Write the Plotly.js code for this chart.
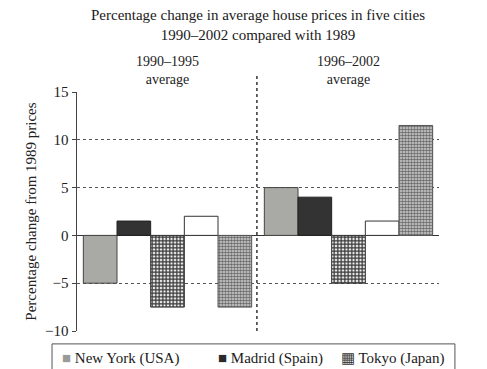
<!DOCTYPE html>
<html><head><meta charset="utf-8">
<script src="https://cdn.plot.ly/plotly-3.0.1.min.js"></script>
<style>html,body{margin:0;padding:0;background:#fff}#c{width:487px;height:369px}</style>
</head><body><div id="c"></div>
<script>
const periods = ['1990–1995<br>average', '1996–2002<br>average'];
const cities = ['New York (USA)', 'Madrid (Spain)', 'Tokyo (Japan)', 'Frankfurt (Germany)', 'London (UK)'];
const newYork = [-5, 5];
const madrid = [1.5, 4];
const tokyo = [-7.5, -5];
const frankfurt = [2, 1.5];
const london = [-7.5, 11.5];
const yTicks = [-10, -5, 0, 5, 10, 15];

const serif = 'Liberation Serif, Times New Roman, serif';
const styles = [
  {color: '#a9aaa6', line: '#444', pattern: null, sym: '■', symColor: '#9a9b97'},
  {color: '#333333', line: '#222', pattern: null, sym: '■', symColor: '#2a2a2a'},
  {color: '#ffffff', line: '#333', pattern: {shape: '+', fgcolor: '#3a3a3a', bgcolor: '#f2f2f2', size: 3.5, solidity: 0.6}, sym: '▦', symColor: '#333'},
  {color: '#ffffff', line: '#333', pattern: null, sym: null},
  {color: '#ffffff', line: '#555', pattern: {shape: '.', fgcolor: '#6a6a6a', bgcolor: '#d8d8d8', size: 3, solidity: 0.6}, sym: null}
];
const series = [newYork, madrid, tokyo, frankfurt, london];
const data = series.map((vals, i) => {
  const s = styles[i];
  const marker = {color: s.color, line: {color: s.line, width: 1}};
  if (s.pattern) marker.pattern = s.pattern;
  return {type: 'bar', x: periods, y: vals, name: cities[i], marker: marker, showlegend: false};
});

// legend entries (the reference legend is cropped after the third entry)
const legendX = [-0.046, 0.385, 0.725];
const annotations = legendX.map((lx, i) => ({
  xref: 'paper', yref: 'paper', x: lx, y: -0.113, xanchor: 'left', yanchor: 'middle', showarrow: false,
  text: '<span style="color:' + styles[i].symColor + '">' + styles[i].sym + '</span> ' + cities[i],
  font: {family: serif, size: 15, color: '#1a1a1a'}
}));

const layout = {
  width: 487, height: 369,
  margin: {l: 77, r: 48, t: 92, b: 38, autoexpand: false},
  paper_bgcolor: '#fff', plot_bgcolor: '#fff',
  font: {family: serif, color: '#222', size: 13},
  showlegend: false,
  title: {text: 'Percentage change in average house prices in five cities<br>1990–2002 compared with 1989',
          xref: 'paper', x: 0.5, xanchor: 'center', y: 0.945, yanchor: 'top', font: {family: serif, size: 15, color: '#1a1a1a'}},
  barmode: 'group', bargap: 0.07, bargroupgap: 0,
  xaxis: {side: 'top', showline: false, showgrid: false, zeroline: false, ticks: '',
          tickfont: {family: serif, size: 14, color: '#222'}, ticklabelstandoff: 4},
  yaxis: {range: [-10, 15], tickvals: yTicks, ticktext: yTicks.map(v => v < 0 ? '\u2212' + Math.abs(v) : String(v)),
          showline: true, linecolor: '#444', linewidth: 1.5, ticks: 'outside', ticklen: 4, tickcolor: '#444',
          showgrid: true, gridcolor: '#555', griddash: 'dot', gridwidth: 1,
          zeroline: true, zerolinecolor: '#333', zerolinewidth: 1.2,
          tickfont: {family: serif, size: 15, color: '#222'},
          title: {text: 'Percentage change from 1989 prices', font: {family: serif, size: 15, color: '#222'}, standoff: 5}},
  shapes: [
    {type: 'line', xref: 'paper', yref: 'paper', x0: 0.497, x1: 0.497, y0: 0, y1: 1.07,
     line: {color: '#333', width: 1.5, dash: 'dot'}},
    {type: 'rect', xref: 'paper', yref: 'paper', x0: -0.069, x1: 1.044, y0: -0.054, y1: -0.3,
     line: {color: '#555', width: 1}, fillcolor: 'rgba(0,0,0,0)', layer: 'above'}
  ],
  annotations: annotations
};
Plotly.newPlot('c', data, layout, {displayModeBar: false, staticPlot: true});
</script></body></html>
